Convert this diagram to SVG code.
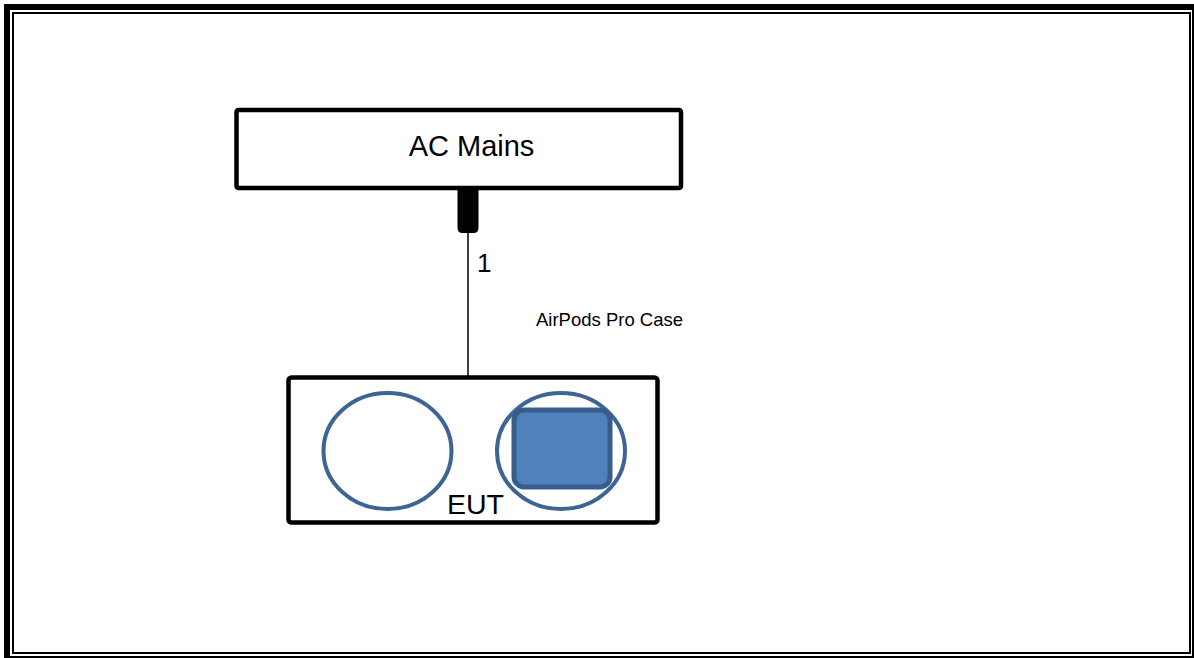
<svg xmlns="http://www.w3.org/2000/svg" width="1194" height="658" viewBox="0 0 1194 658">
<style>
.box{fill:#fff;stroke:#000;stroke-width:4.5}
.t{font-family:"Liberation Sans",Arial,sans-serif;fill:#000}
.ell{fill:#fff;stroke:#3d6495;stroke-width:4}
</style>
<rect width="1194" height="658" fill="#fff"/>
<g id="frame">
<rect x="7" y="7" width="1188" height="652" fill="none" stroke="#000" stroke-width="6"/>
<rect x="13" y="13" width="1177" height="640" fill="none" stroke="#000" stroke-width="2"/>
</g>
<g id="connectors">
<line x1="468" y1="230" x2="468" y2="377" stroke="#000" stroke-width="1.5"/>
<path d="M457.5,190 H478.5 V228 Q478.5,233 473.5,233 H462.5 Q457.5,233 457.5,228 Z" fill="#000"/>
<text class="t" x="477" y="272" font-size="26">1</text>
</g>
<g id="ac-mains">
<rect class="box" x="236.5" y="110" width="444.5" height="78" rx="2"/>
<text class="t" x="471.5" y="156" font-size="29" text-anchor="middle">AC Mains</text>
</g>
<g id="label">
<text class="t" x="536" y="326" font-size="18.5">AirPods Pro Case</text>
</g>
<g id="eut">
<rect class="box" x="288.5" y="377.5" width="369" height="145" rx="3" stroke-width="5"/>
<ellipse class="ell" cx="387.5" cy="451" rx="64" ry="58"/>
<ellipse class="ell" cx="561" cy="451" rx="64" ry="58"/>
<rect x="514" y="410" width="96" height="77" rx="10" fill="#4f81bd" stroke="#385d8a" stroke-width="5"/>
<text class="t" x="475.5" y="514" font-size="28.5" text-anchor="middle">EUT</text>
</g>
</svg>
